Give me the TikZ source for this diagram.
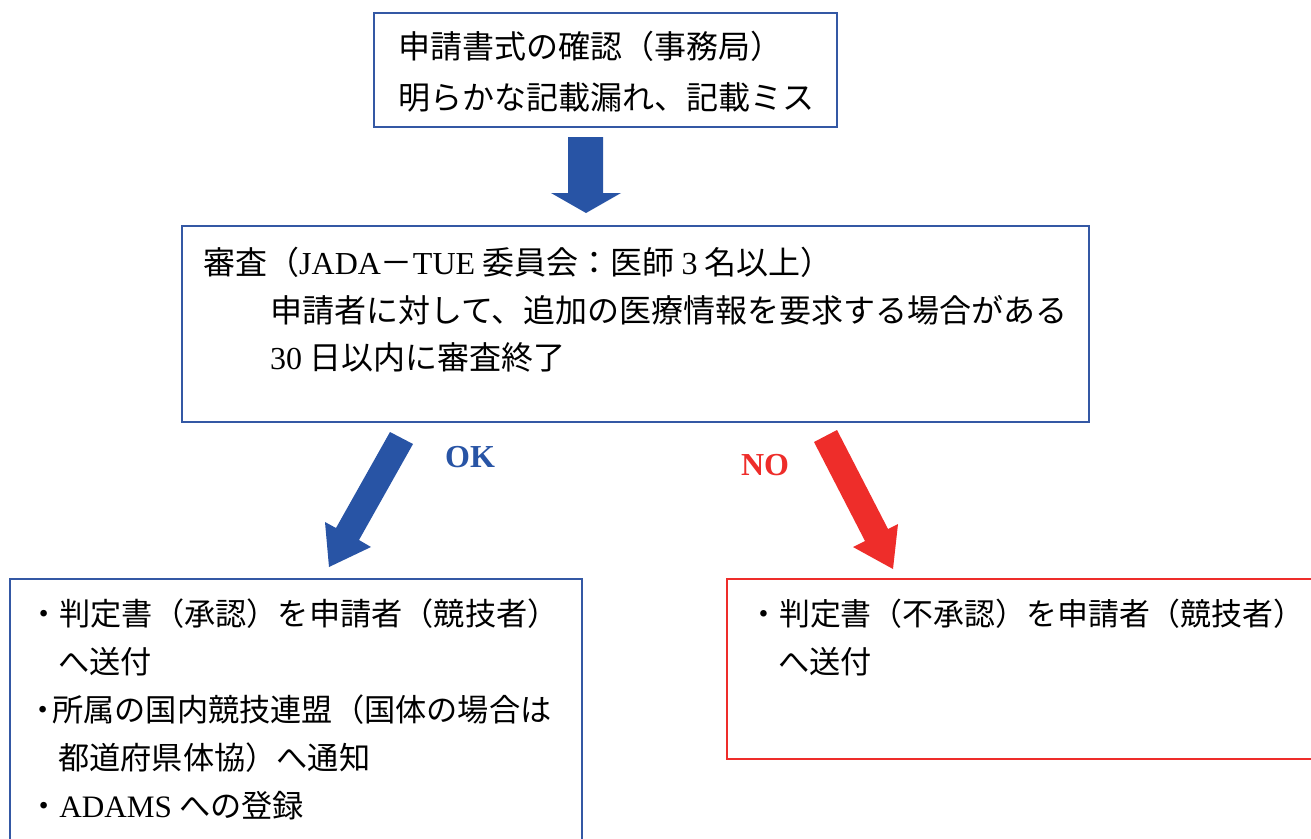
\documentclass[tikz,border=0pt]{standalone}
\usepackage{fontspec}
\setmainfont{Liberation Serif}
\newfontfamily\jp{Noto Sans CJK JP}
\definecolor{boxblue}{RGB}{52,88,164}
\definecolor{arrblue}{RGB}{40,84,165}
\definecolor{arrred}{RGB}{238,45,42}
\begin{document}
\begin{tikzpicture}[x=1pt,y=-1pt,
  bluebox/.style={draw=boxblue,line width=1.8pt,rectangle,anchor=north west,inner sep=0pt},
  redbox/.style={draw=arrred,line width=1.8pt,rectangle,anchor=north west,inner sep=0pt},
  txt/.style={anchor=base west,inner sep=0pt,font=\fontsize{32}{32}\selectfont\jp},
  stxt/.style={anchor=base west,inner sep=0pt,font=\fontsize{31.2}{31}\selectfont\jp},
  lbl/.style={anchor=center,inner sep=0pt,font=\fontsize{32}{32}\selectfont\bfseries}]
\useasboundingbox (0,0) rectangle (1311,838);
\fill[white] (0,0) rectangle (1311,838);
% boxes
\node[bluebox,minimum width=463pt,minimum height=114pt] (top) at (373,12) {};
\node[bluebox,minimum width=907pt,minimum height=196pt] (mid) at (181,225) {};
\node[bluebox,minimum width=572pt,minimum height=280pt] (okb) at (9,578) {};
\node[redbox,minimum width=620pt,minimum height=180pt] (nob) at (726,578) {};
% texts
\node[txt] (t1) at (398,58) {申請書式の確認（事務局）};
\node[txt] (t2) at (398,109) {明らかな記載漏れ、記載ミス};
\node[txt] (m1) at (203,274) {審査（{\rmfamily JADA}－{\rmfamily TUE} 委員会：医師 {\rmfamily 3} 名以上）};
\node[txt] (m2) at (270,322) {申請者に対して、追加の医療情報を要求する場合がある};
\node[txt] (m3) at (270,369) {{\rmfamily 30} 日以内に審査終了};
\node[stxt] (a1) at (28,625) {・判定書（承認）を申請者（競技者）};
\node[stxt] (a2) at (58,673) {へ送付};
\node[stxt] (a3b) at (27,721) {・};
\node[stxt] (a3) at (52,721) {所属の国内競技連盟（国体の場合は};
\node[stxt] (a4) at (58,769) {都道府県体協）へ通知};
\node[stxt] (a5) at (28,817) {・{\rmfamily ADAMS} への登録};
\node[stxt,font=\fontsize{30.9}{31}\selectfont\jp] (b1) at (748,625) {・判定書（不承認）を申請者（競技者）};
\node[stxt] (b2) at (778,673) {へ送付};
\node[lbl,text=arrblue] (ok) at (470,457) {OK};
\node[lbl,text=arrred] (no) at (765,465) {NO};
% arrows
\fill[arrblue] (568,137) -- (603,137) -- (603,193) -- (621,193) -- (586,213) -- (551,193) -- (568,193) -- cycle;
\fill[arrblue] (390,432) -- (413,444) -- (359,540) -- (371,547) -- (329,567) -- (325,522) -- (336,528) -- cycle;
\fill[arrred] (837,430) -- (814,442) -- (865,541) -- (853,547) -- (893,569) -- (898,524) -- (888,529) -- cycle;
\end{tikzpicture}
\end{document}
